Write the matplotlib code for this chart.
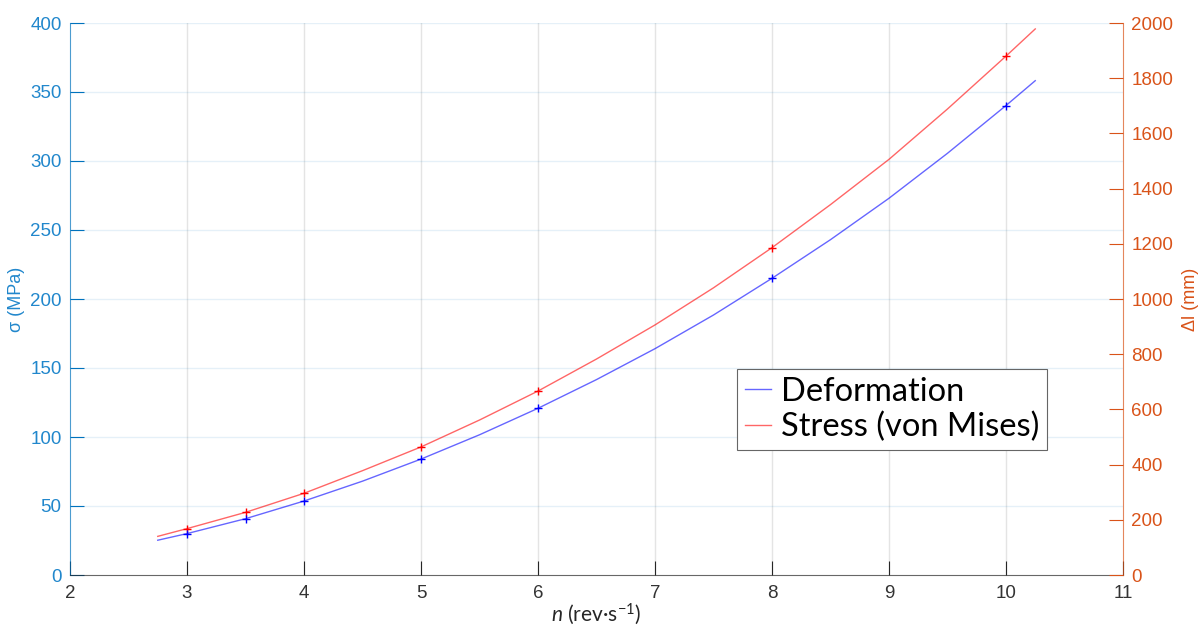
import matplotlib
matplotlib.use("Agg")
import matplotlib.pyplot as plt

# Data
n_curve = [2.75, 3, 3.5, 4, 4.5, 5, 5.5, 6, 6.5, 7, 7.5, 8, 8.5, 9, 9.5, 10, 10.25]
deformation_mm = [126, 150, 204, 268, 340, 420, 508, 604, 708, 820, 942, 1075, 1215, 1365, 1528, 1701, 1791]
stress_mpa = [28, 33.6, 45.4, 59.2, 75.6, 92.8, 112.3, 133.3, 156.5, 181.2, 208.1, 237.2, 268.4, 301.2, 337.7, 376, 395.7]

n_marks = [3, 3.5, 4, 5, 6, 8, 10]
deformation_marks = [150, 204, 268, 420, 604, 1075, 1701]
stress_marks = [33.6, 45.4, 59.2, 92.8, 133.3, 237.2, 376]

x_ticks = [2, 3, 4, 5, 6, 7, 8, 9, 10, 11]
left_ticks = [0, 50, 100, 150, 200, 250, 300, 350, 400]
right_ticks = [0, 200, 400, 600, 800, 1000, 1200, 1400, 1600, 1800, 2000]

LEFT_C = (0.0, 0.447, 0.741)
LEFT_TXT = (0.13, 0.53, 0.80)
RIGHT_C = (0.85, 0.325, 0.098)
AX_C = (0.15, 0.15, 0.15)

plt.rcParams['font.family'] = ['Liberation Sans', 'DejaVu Sans']
plt.rcParams['mathtext.fontset'] = 'custom'
plt.rcParams['mathtext.it'] = 'Lato:italic'
plt.rcParams['mathtext.rm'] = 'Lato'

fig = plt.figure(figsize=(12.03, 6.28), dpi=100)
ax = fig.add_axes([70/1203, 1-575/628, (1123-70)/1203, (575-23)/628])
ax2 = ax.twinx()

# Stress on left axis (MPa)
l_stress, = ax.plot(n_curve, stress_mpa, color=(1, 0, 0), alpha=0.6, lw=1.0)
ax.plot(n_marks, stress_marks, ls='none', marker='+', color=(1, 0, 0), ms=6, mew=1.0)
# Deformation on right axis (mm)
l_def, = ax2.plot(n_curve, deformation_mm, color=(0, 0, 1), alpha=0.6, lw=1.0)
ax2.plot(n_marks, deformation_marks, ls='none', marker='+', color=(0, 0, 1), ms=6, mew=1.0)

ax.set_xlim(2, 11)
ax.set_ylim(0, 400)
ax2.set_ylim(0, 2000)
ax.set_xticks(x_ticks)
ax.set_yticks(left_ticks)
ax2.set_yticks(right_ticks)

# Grid: vertical gray, horizontal light blue
ax.grid(False)
for xv in x_ticks[1:-1]:
    ax.axvline(xv, color=AX_C, alpha=0.12, lw=1, zorder=0)
for yv in left_ticks[1:]:
    ax.axhline(yv, color=LEFT_C, alpha=0.1, lw=1, zorder=0)

for a in (ax, ax2):
    a.spines['top'].set_visible(False)
ax.spines['right'].set_visible(False)
ax2.spines['left'].set_visible(False)
ax2.spines['bottom'].set_visible(False)
ax.spines['left'].set_color(LEFT_C)
ax.spines['left'].set_alpha(0.7)
ax.spines['bottom'].set_color(AX_C)
ax.spines['bottom'].set_alpha(0.7)
ax2.spines['right'].set_color(RIGHT_C)
ax2.spines['right'].set_alpha(0.7)

ax.tick_params(axis='x', direction='in', length=10, colors=AX_C, labelsize=13.5, pad=7)
ax.tick_params(axis='y', direction='in', length=10, color=LEFT_C, labelcolor=LEFT_TXT, labelsize=13.5, pad=6)
ax2.tick_params(axis='y', direction='in', length=10, colors=RIGHT_C, labelsize=13.5, pad=6)
for lab in ax.get_xticklabels():
    lab.set_color((0.2, 0.2, 0.2))

ax.set_ylabel('σ (MPa)', color=LEFT_TXT, fontsize=13, labelpad=4)
ax2.set_ylabel('Δl (mm)', color=RIGHT_C, fontsize=13, labelpad=6)
ax.set_xlabel(r'$n$ (rev·s$^{\mathrm{-1}}$)', fontsize=15, color=AX_C, family=['Lato', 'DejaVu Sans'], labelpad=0)

leg = ax2.legend([l_def, l_stress], ['Deformation', 'Stress (von Mises)'],
                 loc='lower left', bbox_to_anchor=(0.633, 0.226),
                 prop={'family': ['Lato', 'DejaVu Sans'], 'size': 23.5},
                 handlelength=0.8, handletextpad=0.3, borderpad=0.25,
                 labelspacing=0.15, fancybox=False, framealpha=1,
                 edgecolor=(0.4, 0.4, 0.4), borderaxespad=0)
leg.get_frame().set_linewidth(0.8)

fig.savefig('out.png', dpi=100)
